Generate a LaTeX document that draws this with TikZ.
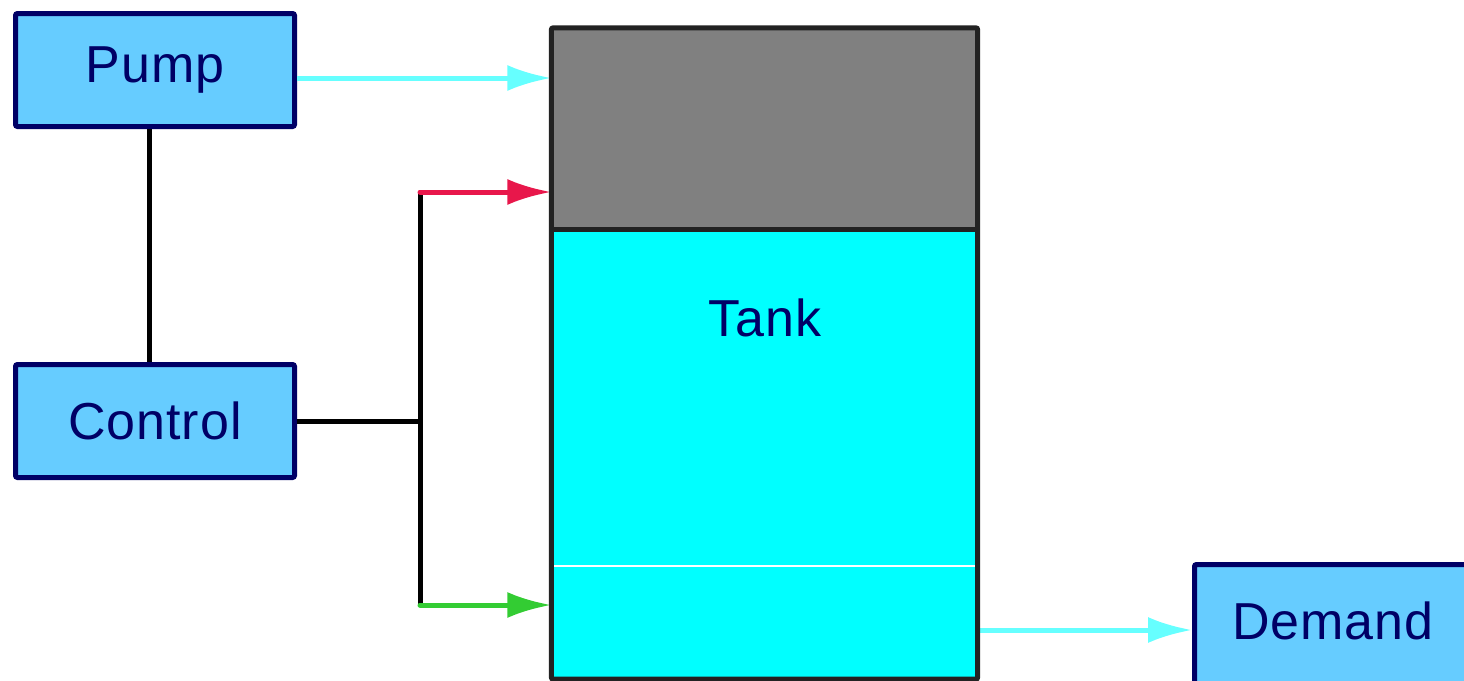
\documentclass[tikz,border=0pt]{standalone}
\usepackage{fontspec}
\setmainfont{Liberation Sans}[LetterSpace=2]
\usetikzlibrary{arrows.meta}
\definecolor{boxfill}{HTML}{66CCFF}
\definecolor{navy}{HTML}{000066}
\definecolor{tankgray}{HTML}{808080}
\definecolor{flow}{HTML}{66FFFF}
\definecolor{redc}{HTML}{E8174B}
\definecolor{greenc}{HTML}{33CC33}
\definecolor{edgec}{HTML}{222222}
\definecolor{water}{HTML}{00FFFF}
\begin{document}
\begin{tikzpicture}[x=1pt,y=-1pt,
  lbl/.style={text=navy,font=\fontsize{52}{60}\selectfont,inner sep=0pt},
  blk/.style={draw=navy,fill=boxfill,line width=5pt,minimum width=279pt,minimum height=113pt,inner sep=0pt,lbl,rounded corners=2pt},
  flowarrow/.style={line width=5pt,-{Latex[length=44pt,width=26pt]}},
  wire/.style={line width=5pt,black}]
\useasboundingbox (0,0) rectangle (1464,680);
% boxes
\node[blk] (pump) at (155,70) {Pump};
\node[blk] (control) at (155,421) {Control};
\node[blk,anchor=north west,minimum width=330pt,minimum height=150pt] (demand) at (1192,562) {};
\node[lbl] (demandtext) at (1333,621) {Demand};
% tank body
\node[fill=water,minimum width=426pt,minimum height=651pt,inner sep=0pt] (tank) at (764.5,353.5) {};
\coordinate (lvl) at (0,229);
\coordinate (low) at (0,566);
\fill[tankgray] (tank.north west) rectangle (tank.east |- lvl);
\draw[white,line width=1.2pt] (tank.west |- low) -- (tank.east |- low);
\node[lbl] (tanklabel) at (765,318) {Tank};
% connectors
\coordinate (pc) at (149,0);
\coordinate (bus) at (420,0);
\coordinate (rtop) at (420,192);
\coordinate (gbot) at (420,605);
\coordinate (py) at (0,78);
\coordinate (dy) at (0,630);
\draw[wire] (pump.south -| pc) -- (control.north -| pc);
\draw[wire] (control.east) -- (control.east -| bus);
\draw[wire] (rtop) -- (gbot);
\draw[flowarrow,flow] (pump.east |- py) -- (tank.west |- py);
\draw[flowarrow,redc,line cap=round] (rtop) -- (tank.west |- rtop);
\draw[flowarrow,greenc,line cap=round] (gbot) -- (tank.west |- gbot);
\draw[flowarrow,flow] (tank.east |- dy) -- (demand.west |- dy);
% tank outline
\draw[edgec,line width=5pt] (tank.west |- lvl) -- (tank.east |- lvl);
\draw[edgec,line width=5pt,rounded corners=2pt] (tank.north west) rectangle (tank.south east);
\end{tikzpicture}
\end{document}
